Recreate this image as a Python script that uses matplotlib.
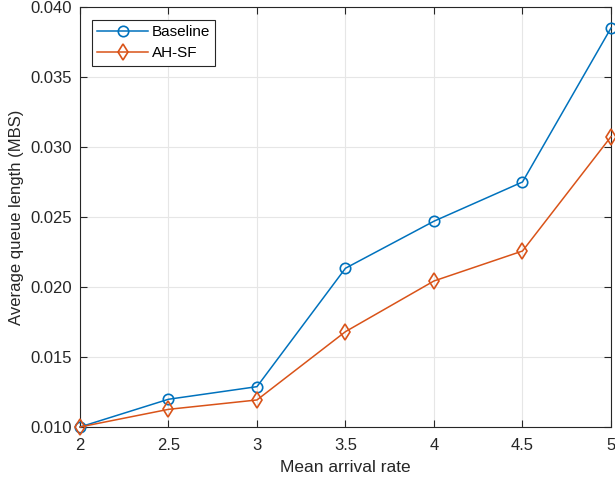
import matplotlib
matplotlib.use("Agg")
import matplotlib.pyplot as plt
from matplotlib.ticker import FormatStrFormatter

plt.rcParams['font.family'] = ['Liberation Sans', 'DejaVu Sans']

rates = [2, 2.5, 3, 3.5, 4, 4.5, 5]
baseline = [0.0100, 0.01198, 0.01288, 0.02134, 0.0247, 0.0275, 0.0385]
ahsf = [0.0100, 0.01126, 0.01193, 0.01681, 0.02043, 0.02257, 0.03074]
xticks = [2, 2.5, 3, 3.5, 4, 4.5, 5]
yticks = [0.010, 0.015, 0.020, 0.025, 0.030, 0.035, 0.040]

fig = plt.figure(figsize=(6.15, 4.79), dpi=100)
ax = fig.add_axes([0.130, 0.1086, 0.8635, 0.8768])

ax.plot(rates, baseline, '-o', color='#0072BD', lw=1.1, ms=7.5, mfc='none', mew=1.2, label='Baseline', clip_on=False, zorder=3)
ax.plot(rates, ahsf, '-d', color='#D95319', lw=1.1, ms=8.5, mfc='none', mew=1.2, label='AH-SF', clip_on=False, zorder=3)

ax.set_xlim(2, 5)
ax.set_ylim(0.010, 0.040)
ax.set_xticks(xticks)
ax.set_xticklabels([f'{t:g}' for t in xticks])
ax.set_yticks(yticks)
ax.yaxis.set_major_formatter(FormatStrFormatter('%.3f'))
ax.grid(True, color='#e6e6e6', lw=0.8)
ax.set_axisbelow(True)
ax.tick_params(direction='in', top=True, right=True, labelsize=12, colors='#262626', length=5)
ax.tick_params(axis='x', pad=8)
ax.tick_params(axis='y', pad=6)
for s in ax.spines.values():
    s.set_color('#262626')
    s.set_linewidth(0.8)
ax.set_xlabel('Mean arrival rate', fontsize=12.5, color='#262626', labelpad=5)
ax.set_ylabel('Average queue length (MBS)', fontsize=12, color='#262626', labelpad=4)

leg = ax.legend(loc='upper left', bbox_to_anchor=(0.0226, 0.969), borderaxespad=0, fontsize=11, fancybox=False,
                edgecolor='#262626', framealpha=1, handlelength=3.3, handletextpad=0.25,
                borderpad=0.35, labelspacing=0.45)
leg.get_frame().set_linewidth(0.8)

fig.savefig('out.png', dpi=100)
